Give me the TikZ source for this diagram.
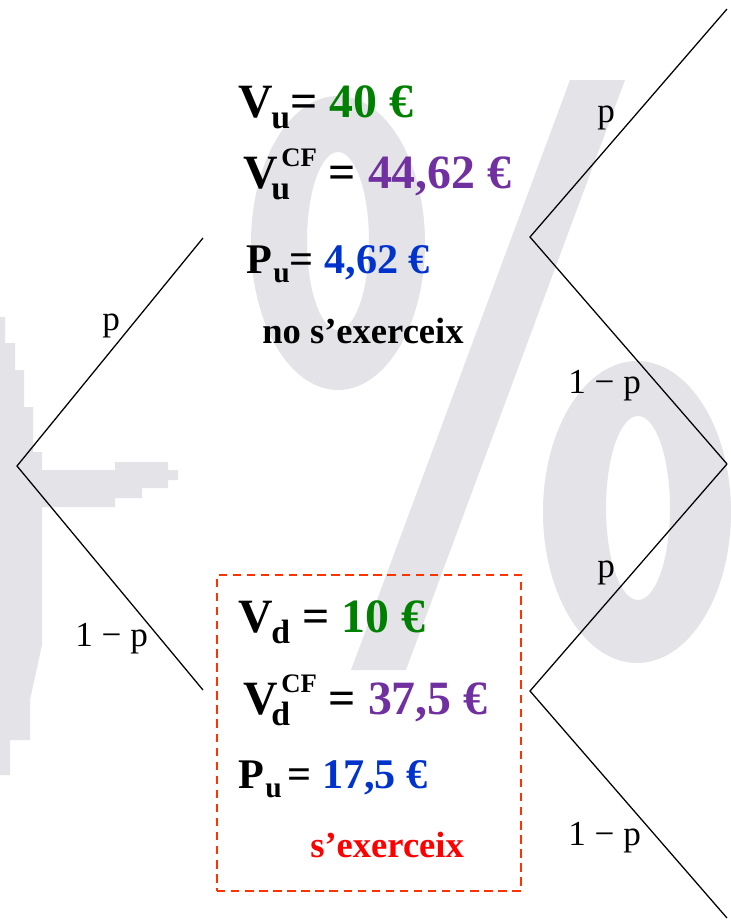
\documentclass[tikz,border=0pt]{standalone}
\usepackage{fontspec}
\setmainfont{Liberation Serif}
\usepackage{tikz}
\usetikzlibrary{positioning}
\usepackage{xcolor}
\definecolor{wmgray}{RGB}{228,227,232}
\definecolor{vgreen}{RGB}{0,128,0}
\definecolor{vpurple}{RGB}{112,48,160}
\definecolor{vblue}{RGB}{0,51,204}
\definecolor{exred}{RGB}{255,0,0}
\definecolor{boxred}{RGB}{255,51,0}
\newcommand{\subfont}{\fontsize{24}{24}\selectfont}
\newcommand{\subfontP}{\fontsize{21}{21}\selectfont}
\newcommand{\supfont}{\fontsize{19}{19}\selectfont}
\newcommand{\Vsub}[1]{V\kern-1pt\raisebox{-8pt}{\subfont #1}}
\newcommand{\Psub}[1]{P\kern1pt\raisebox{-6.5pt}{\subfontP #1}}
\newcommand{\Vcf}[1]{V\kern-4.5pt\rlap{\raisebox{-8.5pt}{\subfont #1}}\kern7pt\raisebox{15pt}{\supfont CF}}

\begin{document}
\begin{tikzpicture}[
  x=0.025cm, y=-0.025cm,
  branch/.style={draw=black, line width=0.9pt},
  prob/.style={anchor=base west, inner sep=0pt, font=\fontsize{25}{30}\selectfont},
  val/.style={anchor=base west, inner sep=0pt, font=\fontsize{34}{40}\selectfont\bfseries},
  valP/.style={anchor=base west, inner sep=0pt, font=\fontsize{30}{36}\selectfont\bfseries},
  note/.style={anchor=base west, inner sep=0pt, font=\fontsize{26}{30}\selectfont\bfseries},
  exbox/.style={
    rectangle, draw=boxred, line width=1.8pt, dash pattern=on 6pt off 4pt,
    minimum width=7.6cm, minimum height=7.9cm, inner sep=0pt
  }
]
\useasboundingbox (0,0) rectangle (731,923);

\fill[wmgray, even odd rule] (338,243) ellipse [x radius=87, y radius=147]
  (338,241) ellipse [x radius=31, y radius=89];
\fill[wmgray, even odd rule] (637,512) ellipse [x radius=94, y radius=151]
  (638,508) ellipse [x radius=32, y radius=92];
\fill[wmgray] (570,80) -- (625,80) -- (406,670) -- (351,670) -- cycle;
\fill[wmgray] (0,317) -- (5,317) -- (5,343) -- (15,343) -- (15,370) -- (24,370)
  -- (24,407) -- (33,407) -- (33,452) -- (42,452) -- (42,645) -- (30,700)
  -- (30,740) -- (10,740) -- (10,775) -- (0,775) -- cycle;
\fill[wmgray] (0,470) -- (115,470) -- (115,462) -- (168,462) -- (168,470)
  -- (178,470) -- (178,480) -- (168,480) -- (168,488) -- (142,488)
  -- (142,498) -- (115,498) -- (115,507) -- (0,507) -- cycle;

\coordinate (root) at (17,466);
\coordinate (upA) at (203,238);
\coordinate (dnA) at (203,690);
\coordinate (uN) at (530,237);
\coordinate (dN) at (530,691);
\coordinate (uu) at (727,9);
\coordinate (ud) at (727,464);
\coordinate (dd) at (727,918);

\draw[branch] (upA) -- (root) -- (dnA);
\draw[branch] (uu) -- (uN) -- (ud);
\draw[branch] (ud) -- (dN) -- (dd);

\node[prob] (lp1) at (102,330) {p};
\node[prob] (lq1) at (75,646) {1 − p};
\node[prob] (lp2) at (597,122) {p};
\node[prob] (lq2) at (568,393) {1 − p};
\node[prob] (lp3) at (597,577) {p};
\node[prob] (lq3) at (568,845) {1 − p};

\node[val] (vu) at (238,117) {\Vsub{u}= \textcolor{vgreen}{40 €}};
\node[val] (vucf) at (243,188) {\Vcf{u} = \textcolor{vpurple}{44,62 €}};
\node[valP] (pu) at (246,273) {\Psub{u}= \textcolor{vblue}{4,62 €}};
\node[note] (nox) at (262,343) {no s’exerceix};

\node[exbox] (box) at (369,733) {};
\node[val] (vd) at (238,632) {\Vsub{d} = \textcolor{vgreen}{10 €}};
\node[val] (vdcf) at (243,714) {\Vcf{d} = \textcolor{vpurple}{37,5 €}};
\node[valP] (pd) at (238,788) {\Psub{u}\kern4pt= \textcolor{vblue}{17,5 €}};
\node[note, text=exred] (ex) at (310,857) {s’exerceix};

\end{tikzpicture}
\end{document}
